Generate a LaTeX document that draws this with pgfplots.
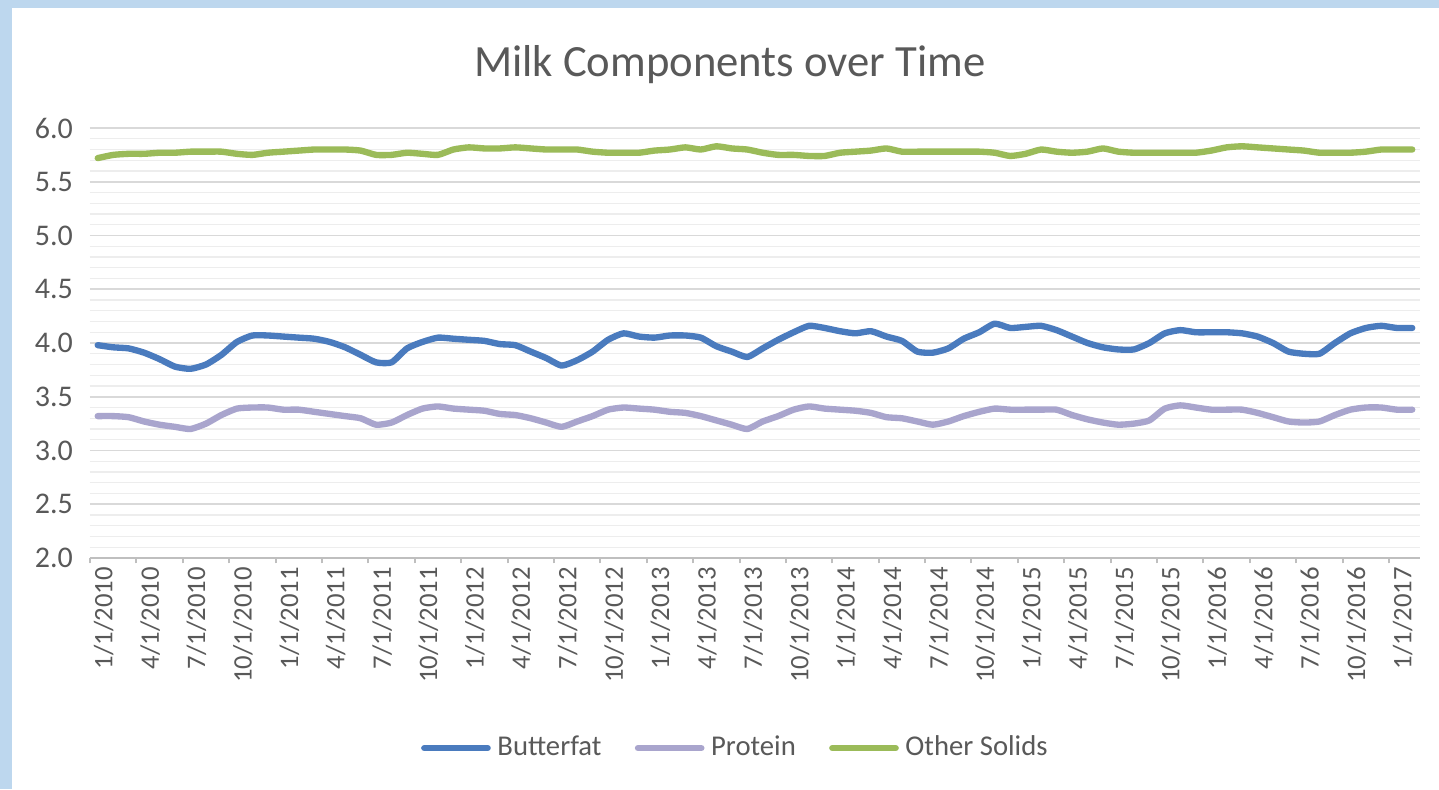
\documentclass[border=0pt]{standalone}
\usepackage{fontspec}
\setmainfont{Carlito}
\usepackage{pgfplots}
\usepackage{pgfplotstable}
\pgfplotsset{compat=1.18}
\definecolor{bfcol}{HTML}{4A7BBE}
\definecolor{prcol}{HTML}{A9A5CD}
\definecolor{oscol}{HTML}{9BBB59}
\definecolor{frameblue}{HTML}{BDD7EE}
\definecolor{txtgray}{HTML}{595959}
\definecolor{gridmaj}{HTML}{D9D9D9}
\definecolor{gridmin}{HTML}{EDEDED}
\definecolor{axgray}{HTML}{BFBFBF}

\pgfplotstableread{
m bf pr os
0 3.98 3.32 5.72
1 3.96 3.32 5.75
2 3.95 3.31 5.76
3 3.91 3.27 5.76
4 3.85 3.24 5.77
5 3.78 3.22 5.77
6 3.76 3.20 5.78
7 3.80 3.25 5.78
8 3.89 3.33 5.78
9 4.01 3.39 5.76
10 4.07 3.40 5.75
11 4.07 3.40 5.77
12 4.06 3.38 5.78
13 4.05 3.38 5.79
14 4.04 3.36 5.80
15 4.01 3.34 5.80
16 3.96 3.32 5.80
17 3.89 3.30 5.79
18 3.82 3.24 5.75
19 3.82 3.26 5.75
20 3.95 3.33 5.77
21 4.01 3.39 5.76
22 4.05 3.41 5.75
23 4.04 3.39 5.80
24 4.03 3.38 5.82
25 4.02 3.37 5.81
26 3.99 3.34 5.81
27 3.98 3.33 5.82
28 3.92 3.30 5.81
29 3.86 3.26 5.80
30 3.79 3.22 5.80
31 3.84 3.27 5.80
32 3.92 3.32 5.78
33 4.03 3.38 5.77
34 4.09 3.40 5.77
35 4.06 3.39 5.77
36 4.05 3.38 5.79
37 4.07 3.36 5.80
38 4.07 3.35 5.82
39 4.05 3.32 5.80
40 3.97 3.28 5.83
41 3.92 3.24 5.81
42 3.87 3.20 5.80
43 3.95 3.27 5.77
44 4.03 3.32 5.75
45 4.10 3.38 5.75
46 4.16 3.41 5.74
47 4.14 3.39 5.74
48 4.11 3.38 5.77
49 4.09 3.37 5.78
50 4.11 3.35 5.79
51 4.06 3.31 5.81
52 4.02 3.30 5.78
53 3.92 3.27 5.78
54 3.91 3.24 5.78
55 3.95 3.27 5.78
56 4.04 3.32 5.78
57 4.10 3.36 5.78
58 4.18 3.39 5.77
59 4.14 3.38 5.74
60 4.15 3.38 5.76
61 4.16 3.38 5.80
62 4.12 3.38 5.78
63 4.06 3.33 5.77
64 4.00 3.29 5.78
65 3.96 3.26 5.81
66 3.94 3.24 5.78
67 3.94 3.25 5.77
68 4.00 3.28 5.77
69 4.09 3.39 5.77
70 4.12 3.42 5.77
71 4.10 3.40 5.77
72 4.10 3.38 5.79
73 4.10 3.38 5.82
74 4.09 3.38 5.83
75 4.06 3.35 5.82
76 4.00 3.31 5.81
77 3.92 3.27 5.80
78 3.90 3.26 5.79
79 3.90 3.27 5.77
80 4.00 3.33 5.77
81 4.09 3.38 5.77
82 4.14 3.40 5.78
83 4.16 3.40 5.80
84 4.14 3.38 5.80
85 4.14 3.38 5.80
}\milk

\begin{document}
\begin{tikzpicture}
\begin{scope}[x=0.3pt,y=0.3pt]
\fill[frameblue] (-90,-231) rectangle (1349,558);
\useasboundingbox (-90,-231) rectangle (1349,558);
\fill[white] (-78,-231) rectangle (1349,550);
\end{scope}
\begin{axis}[
  at={(0,0)}, anchor=south west,
  scale only axis, width=399pt, height=129pt,
  xmin=-0.5, xmax=85.5, ymin=2, ymax=6,
  axis lines*=left,
  x axis line style={draw=axgray, line width=0.6pt},
  y axis line style={draw=none},
  ytick={2,2.5,...,6},
  minor y tick num=4,
  ymajorgrids, yminorgrids,
  major grid style={draw=gridmaj, line width=0.5pt},
  minor grid style={draw=gridmin, line width=0.4pt},
  ytick style={draw=none},
  minor y tick style={draw=none},
  xtick={0,3,...,84},
  xticklabels={1/1/2010,4/1/2010,7/1/2010,10/1/2010,1/1/2011,4/1/2011,7/1/2011,10/1/2011,1/1/2012,4/1/2012,7/1/2012,10/1/2012,1/1/2013,4/1/2013,7/1/2013,10/1/2013,1/1/2014,4/1/2014,7/1/2014,10/1/2014,1/1/2015,4/1/2015,7/1/2015,10/1/2015,1/1/2016,4/1/2016,7/1/2016,10/1/2016,1/1/2017},
  xtick style={draw=none},
  minor xtick={-0.5,2.5,...,83.5},
  minor x tick style={draw=axgray, line width=0.6pt},
  tick align=outside,
  minor tick length=1.6pt,
  major tick length=1.6pt,
  xticklabel style={rotate=90, anchor=east, font=\fontsize{8}{9}\selectfont, text=txtgray, inner sep=1pt, yshift=-1.8pt},
  yticklabel style={font=\fontsize{9}{10}\selectfont, text=txtgray, /pgf/number format/.cd, fixed, fixed zerofill, precision=1},
  /pgf/number format/assume math mode=true,
  every axis title shift=0pt,
  title={Milk Components over Time},
  title style={at={(0.481,1.147)}, anchor=center, font=\fontsize{13.4}{16}\selectfont, text=txtgray},
  legend columns=3,
  legend style={at={(0.487,-0.442)}, anchor=center, draw=none, fill=none,
    font=\fontsize{8.6}{10}\selectfont, text=txtgray,
    /tikz/every even column/.append style={column sep=8pt}},
  legend image code/.code={\draw[#1] (0pt,0pt) -- (19pt,0pt);},
  every axis plot/.append style={line width=1.9pt, line join=round, line cap=round, smooth, tension=0.35},
]
\addplot[bfcol] table[x=m, y=bf] {\milk};
\addlegendentry{Butterfat}
\addplot[prcol] table[x=m, y=pr] {\milk};
\addlegendentry{Protein}
\addplot[oscol] table[x=m, y=os] {\milk};
\addlegendentry{Other Solids}
\end{axis}
\end{tikzpicture}
\end{document}
